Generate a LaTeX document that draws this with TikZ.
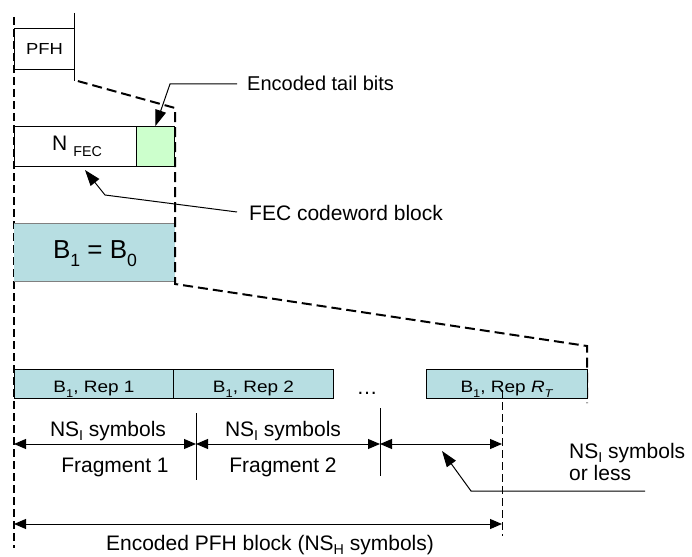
\documentclass[tikz,border=0pt]{standalone}
\usepackage{fontspec}
\setmainfont{Liberation Sans}
\newfontfamily\widefont[FakeStretch=1.15]{Liberation Sans}
\usetikzlibrary{arrows.meta}
\newcommand\mysub[2][0.3em]{\raisebox{-#1}{\scalebox{0.68}{#2}}}
\definecolor{tealfill}{RGB}{183,222,226}
\definecolor{greenfill}{RGB}{204,255,204}
\begin{document}
\begin{tikzpicture}[x=1pt,y=-1pt,
  box/.style={draw=black,line width=0.9pt,inner sep=0pt,anchor=north west},
  repbox/.style={box,fill=tealfill,minimum height=29,text height=17pt,text depth=0pt,
     font=\widefont\fontsize{16.5}{18}\selectfont},
  thindash/.style={line width=1.2pt,dash pattern=on 8pt off 4pt},
  thickdash/.style={line width=2pt,dash pattern=on 10pt off 5pt},
  lab/.style={inner sep=0pt,font=\fontsize{21}{22}\selectfont},
  dim/.style={line width=1pt,{Triangle[length=12pt,width=10pt]}-{Triangle[length=12pt,width=10pt]}},
  ptr/.style={line width=1pt,-{Triangle[length=16pt,width=11pt]}}]
\useasboundingbox (0,0) rectangle (692,556);

% left dashed guide
\coordinate (L0) at (14,17);
\coordinate (L1) at (14,548);
\draw[thindash] (L0) -- (L1);

% PFH box
\node[box,minimum width=60,minimum height=41,
      font=\widefont\fontsize{16}{18}\selectfont] (pfh) at (14,28) {PFH};
\draw[line width=0.9pt] ([yshift=15pt]pfh.north east) -- ([yshift=-11pt]pfh.south east);

% N_FEC and tail boxes
\node[box,minimum width=122,minimum height=40] (nfec) at (14,126) {};
\node[box,fill=greenfill,minimum width=38,minimum height=40] (tail) at (136,126) {};
\node[lab,anchor=base west] (nfect) at (52,150) {N\hspace{6pt}\mysub[6pt]{FEC}};

% B1 = B0 block
\node[inner sep=0pt,anchor=north west,fill=tealfill,minimum width=161,minimum height=58] (bb) at (14,223) {};
\draw[gray,line width=0.9pt] (bb.north west) -- (bb.north east);
\draw[gray,line width=0.9pt] (bb.south west) -- (bb.south east);
\node[inner sep=0pt,anchor=base,font=\fontsize{26}{30}\selectfont] (bbt) at (95,258)
  {B\mysub[0.33em]{1} = B\mysub[0.33em]{0}};

% expansion dashed outline
\coordinate (p0) at (74,80);
\coordinate (p1) at (175,108);
\coordinate (p2) at (175,284);
\coordinate (p3) at (587,346);
\coordinate (p4) at (587,403);
\draw[thickdash,dash phase=-4pt] (p0) -- (p1) -- (p2) -- (p3) -- (p4);

% repetition boxes
\node[repbox,minimum width=159] (r1) at (14,369) {B\mysub{1}, Rep 1};
\node[repbox,minimum width=160] (r2) at (173,369) {B\mysub{1}, Rep 2};
\node[repbox,minimum width=161] (rt) at (426,369) {B\mysub{1}, Rep \textit{R}\mysub{\textit{T}}};
\node[lab,anchor=base] (dots) at (367,394) {…};

% fragment dividers
\coordinate (d1t) at (196,413);
\coordinate (d1b) at (196,480);
\coordinate (d2t) at (380,408);
\coordinate (d2b) at (380,476);
\draw[line width=1pt] (d1t) -- (d1b);
\draw[line width=1pt] (d2t) -- (d2b);

% dashed end of encoded block
\coordinate (v0) at (502,390);
\coordinate (v1) at (502,536);
\draw[thindash,line width=1pt] (v0) -- (v1);

% dimension arrows
\coordinate (a0) at (14,444);
\coordinate (a1) at (196,444);
\coordinate (a2) at (380,444);
\coordinate (a3) at (502,444);
\draw[dim] (a0) -- (a1);
\draw[dim] (a1) -- (a2);
\draw[dim] (a2) -- (a3);
\coordinate (b0) at (14,524);
\coordinate (b1) at (502,524);
\draw[dim] (b0) -- (b1);

% labels
\node[lab,anchor=base] (ns1) at (108,436) {NS\mysub[0.2em]{I} symbols};
\node[lab,anchor=base] (ns2) at (283,436) {NS\mysub[0.2em]{I} symbols};
\node[lab,anchor=base] (fr1) at (115,472) {Fragment 1};
\node[lab,anchor=base] (fr2) at (283,472) {Fragment 2};
\node[lab,anchor=base west,align=left] (nsl) at (569,480) {NS\mysub[0.2em]{I} symbols\\or less};
\node[lab,anchor=base] (enc) at (270,550) {Encoded PFH block (NS\mysub[0.2em]{H} symbols)};
\node[lab,anchor=base west,font=\fontsize{20}{22}\selectfont] (taillab) at (247,91) {Encoded tail bits};
\node[lab,anchor=base west] (feclab) at (249,220) {FEC codeword block};

% pointers
\coordinate (t0) at (237,84);
\coordinate (t1) at (170,84);
\draw[ptr] (t0) -- (t1) -- (tail.north);
\coordinate (f0) at (237,212);
\coordinate (f1) at (105,195);
\coordinate (f2) at (85,170);
\draw[ptr] (f0) -- (f1) -- (f2);
\coordinate (n0) at (645,491);
\coordinate (n1) at (471,491);
\coordinate (n2) at (442,451);
\draw[ptr] (n0) -- (n1) -- (n2);
\end{tikzpicture}
\end{document}
